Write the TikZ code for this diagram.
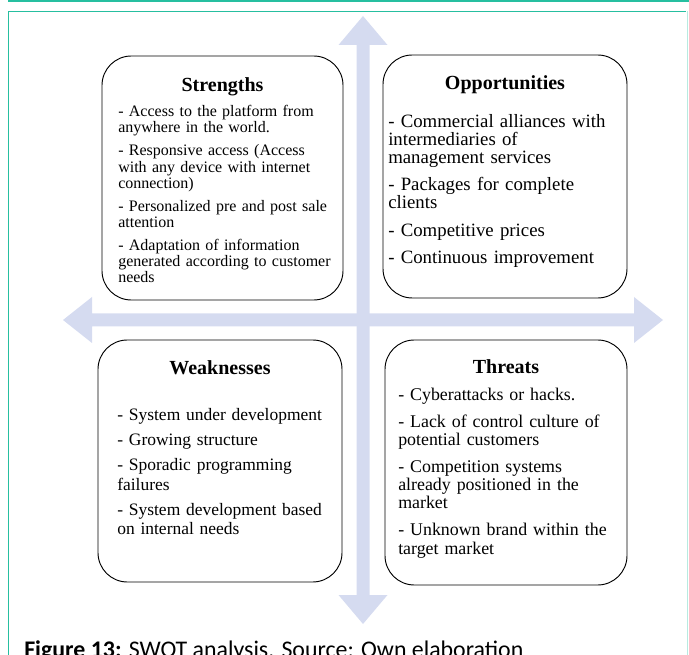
\documentclass[tikz,border=0pt]{standalone}
\usepackage{fontspec}
\setmainfont{Liberation Serif}
\newfontfamily\capfont{Carlito}
\definecolor{teal1}{HTML}{26BFA0}
\definecolor{teal2}{HTML}{B8EAE0}
\definecolor{arrowblue}{HTML}{D5DBF0}
\begin{document}
\begin{tikzpicture}[x=0.75pt,y=-0.75pt,
  quad/.style={draw=black, line width=0.7pt, fill=white, rounded corners=22pt, inner sep=0pt, outer sep=0pt},
  ttl/.style={font=\fontsize{15}{18}\selectfont\bfseries, inner sep=0pt, anchor=base},
  body/.style={inner sep=0pt, anchor=base west, text width=200pt, align=left},
  crossarrow/.style={fill=arrowblue, draw=none}]
\useasboundingbox (0,0) rectangle (689,655);
% frame
\draw[teal1, line width=1.6pt] (8,1) -- (689,1);
\draw[teal1, line width=1.1pt] (8.5,670) -- (8.5,11.5) -- (686,11.5);
\draw[teal2, line width=1.1pt] (687.5,11.5) -- (687.5,670);
% cross arrows
\fill[crossarrow] (363,16) -- (387.5,45) -- (369.5,45) -- (369.5,595) -- (387.5,595) -- (363,624) -- (338.5,595) -- (356.5,595) -- (356.5,45) -- (338.5,45) -- cycle;
\fill[crossarrow] (63,320) -- (92,297) -- (92,313.5) -- (634,313.5) -- (634,297) -- (663,320) -- (634,343) -- (634,326.5) -- (92,326.5) -- (92,343) -- cycle;
% boxes
\node[quad, minimum width=180.75pt, minimum height=183pt] (S) at (222.5,178) {};
\node[quad, minimum width=183pt, minimum height=182.25pt] (O) at (505,176.5) {};
\node[quad, minimum width=183pt, minimum height=181.5pt] (W) at (220,461) {};
\node[quad, minimum width=181.5pt, minimum height=183.75pt] (T) at (506,462.5) {};
% titles
\node[ttl] (St) at (222.5,91.7) {Strengths};
\node[ttl] (Ot) at (505,89.3) {Opportunities};
\node[ttl] (Wt) at (220,374.3) {Weaknesses};
\node[ttl] (Tt) at (506,373.3) {Threats};
% bodies
\node[body, font=\fontsize{12}{12.15}\selectfont] (Sb) at (118,116.7) {%
- Access to the platform from\\
anywhere in the world.\\[5.1pt]
- Responsive access (Access\\
with any device with internet\\
connection)\\[5.1pt]
- Personalized pre and post sale\\
attention\\[5.1pt]
- Adaptation of information\\
generated according to customer\\
needs};
\node[body, font=\fontsize{14.1}{13.6}\selectfont] (Ob) at (388,127.3) {%
- Commercial alliances with\\
intermediaries of\\
management services\\[6.8pt]
- Packages for complete\\
clients\\[6.8pt]
- Competitive prices\\[6.8pt]
- Continuous improvement};
\node[body, font=\fontsize{13.1}{14.4}\selectfont] (Wb) at (117,420.7) {%
- System under development\\[4.4pt]
- Growing structure\\[4.4pt]
- Sporadic programming\\
failures\\[4.4pt]
- System development based\\
on internal needs};
\node[body, font=\fontsize{13.4}{13.6}\selectfont] (Tb) at (398,400.7) {%
- Cyberattacks or hacks.\\[6.6pt]
- Lack of control culture of\\
potential customers\\[6.6pt]
- Competition systems\\
already positioned in the\\
market\\[6.6pt]
- Unknown brand within the\\
target market};
% caption
\node[anchor=base west, inner sep=0pt, font=\capfont\fontsize{17.9}{20}\selectfont] (cap) at (24,657) {\textbf{Figure 13:} SWOT analysis. Source: Own elaboration};
\end{tikzpicture}
\end{document}
